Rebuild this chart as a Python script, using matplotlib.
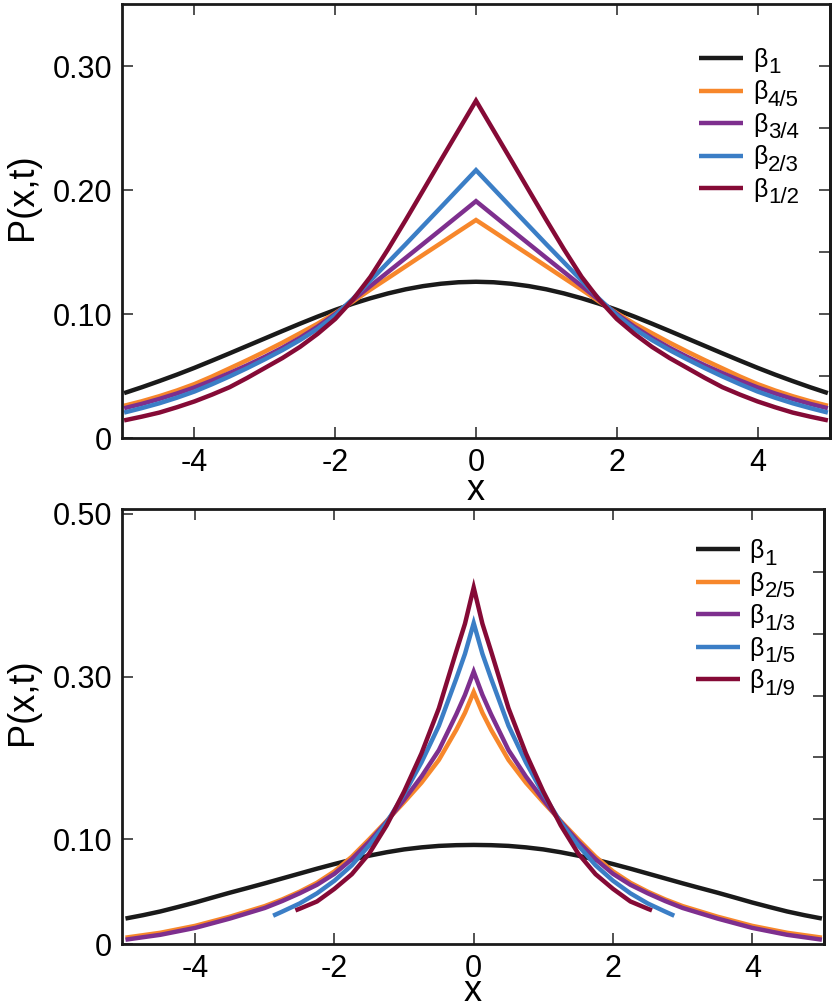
import matplotlib
matplotlib.use("Agg")
import matplotlib.pyplot as plt

plt.rcParams["font.family"] = ["Liberation Sans", "DejaVu Sans"]

# ---- top panel data ----
x_top = [-5, -4.75, -4.5, -4.25, -4, -3.75, -3.5, -3.25, -3, -2.75, -2.5, -2.25, -2, -1.75, -1.5, -1.25,
         -1, -0.75, -0.5, -0.25, 0, 0.25, 0.5, 0.75, 1, 1.25, 1.5, 1.75, 2, 2.25, 2.5, 2.75, 3,
         3.25, 3.5, 3.75, 4, 4.25, 4.5, 4.75, 5]
top_b1 = [0.0362, 0.0409, 0.0459, 0.0511, 0.0566, 0.0624, 0.0683, 0.0743, 0.0803, 0.0863, 0.0922,
          0.0979, 0.1033, 0.1083, 0.1127, 0.1166, 0.1199, 0.1225, 0.1244, 0.1256, 0.1260,
          0.1256, 0.1244, 0.1225, 0.1199, 0.1166, 0.1127, 0.1083, 0.1033, 0.0979, 0.0922,
          0.0863, 0.0803, 0.0743, 0.0683, 0.0624, 0.0566, 0.0511, 0.0459, 0.0409, 0.0362]
top_b45 = [0.0260, 0.0296, 0.0337, 0.0383, 0.0435, 0.0496, 0.0562, 0.0628, 0.0697, 0.0769, 0.0845,
           0.0922, 0.1008, 0.1100, 0.1197, 0.1290, 0.1384, 0.1478, 0.1571, 0.1665, 0.1758,
           0.1665, 0.1571, 0.1478, 0.1384, 0.1290, 0.1197, 0.1100, 0.1008, 0.0922, 0.0845,
           0.0769, 0.0697, 0.0628, 0.0562, 0.0496, 0.0435, 0.0383, 0.0337, 0.0296, 0.0260]
top_b34 = [0.0240, 0.0275, 0.0315, 0.0359, 0.0408, 0.0464, 0.0524, 0.0587, 0.0655, 0.0728, 0.0808,
           0.0898, 0.1000, 0.1112, 0.1226, 0.1339, 0.1452, 0.1566, 0.1680, 0.1795, 0.1910,
           0.1795, 0.1680, 0.1566, 0.1452, 0.1339, 0.1226, 0.1112, 0.1000, 0.0898, 0.0808,
           0.0728, 0.0655, 0.0587, 0.0524, 0.0464, 0.0408, 0.0359, 0.0315, 0.0275, 0.0240]
top_b23 = [0.0205, 0.0241, 0.0280, 0.0325, 0.0375, 0.0434, 0.0497, 0.0564, 0.0635, 0.0709, 0.0790,
           0.0880, 0.0990, 0.1122, 0.1270, 0.1416, 0.1562, 0.1711, 0.1860, 0.2010, 0.2160,
           0.2010, 0.1860, 0.1711, 0.1562, 0.1416, 0.1270, 0.1122, 0.0990, 0.0880, 0.0790,
           0.0709, 0.0635, 0.0564, 0.0497, 0.0434, 0.0375, 0.0325, 0.0280, 0.0241, 0.0205]
top_b12 = [0.0142, 0.0172, 0.0205, 0.0248, 0.0295, 0.0350, 0.0410, 0.0485, 0.0565, 0.0645, 0.0735,
           0.0840, 0.0960, 0.1115, 0.1300, 0.1522, 0.1757, 0.1998, 0.2240, 0.2480, 0.2720,
           0.2480, 0.2240, 0.1998, 0.1757, 0.1522, 0.1300, 0.1115, 0.0960, 0.0840, 0.0735,
           0.0645, 0.0565, 0.0485, 0.0410, 0.0350, 0.0295, 0.0248, 0.0205, 0.0172, 0.0142]
top_subs = ["1", "4/5", "3/4", "2/3", "1/2"]

# ---- bottom panel data ----
x_bot_b1 = x_top
bot_b1 = [0.0025, 0.0066, 0.0112, 0.0166, 0.0222, 0.0283, 0.0343, 0.0400, 0.0458, 0.0518, 0.0578,
          0.0638, 0.0695, 0.0749, 0.0798, 0.0840, 0.0875, 0.0900, 0.0918, 0.0927, 0.0930,
          0.0927, 0.0918, 0.0900, 0.0875, 0.0840, 0.0798, 0.0749, 0.0695, 0.0638, 0.0578,
          0.0518, 0.0458, 0.0400, 0.0343, 0.0283, 0.0222, 0.0166, 0.0112, 0.0066, 0.0025]
x_bot = [-5, -4.5, -4, -3.5, -3, -2.75, -2.5, -2.25, -2, -1.75, -1.5, -1.25, -1, -0.75, -0.5, -0.25,
         -0.125, 0, 0.125, 0.25, 0.5, 0.75, 1, 1.25, 1.5, 1.75, 2, 2.25, 2.5, 2.75, 3, 3.5, 4, 4.5, 5]
bot_b25 = [-0.0210, -0.0150, -0.0065, 0.0048, 0.0178, 0.0260, 0.0355, 0.0465, 0.0605, 0.0785, 0.1000,
           0.1225, 0.1455, 0.1695, 0.1975, 0.2345, 0.2555, 0.2810, 0.2555,
           0.2345, 0.1975, 0.1695, 0.1455, 0.1225, 0.1000, 0.0785, 0.0605, 0.0465, 0.0355, 0.0260,
           0.0178, 0.0048, -0.0065, -0.0150, -0.0210]
bot_b13 = [-0.0235, -0.0175, -0.0090, 0.0025, 0.0155, 0.0240, 0.0335, 0.0440, 0.0575, 0.0755, 0.0970,
           0.1215, 0.1485, 0.1770, 0.2095, 0.2535, 0.2775, 0.3060, 0.2775,
           0.2535, 0.2095, 0.1770, 0.1485, 0.1215, 0.0970, 0.0755, 0.0575, 0.0440, 0.0335, 0.0240,
           0.0155, 0.0025, -0.0090, -0.0175, -0.0235]
x_bot_b15 = [-2.88, -2.75, -2.5, -2.25, -2, -1.75, -1.5, -1.25, -1, -0.75, -0.5, -0.25, -0.125, 0,
             0.125, 0.25, 0.5, 0.75, 1, 1.25, 1.5, 1.75, 2, 2.25, 2.5, 2.75, 2.88]
bot_b15 = [0.0060, 0.0110, 0.0210, 0.0335, 0.0490, 0.0680, 0.0925, 0.1205, 0.1555, 0.1945, 0.2395, 0.2975,
           0.3280, 0.3657, 0.3280,
           0.2975, 0.2395, 0.1945, 0.1555, 0.1205, 0.0925, 0.0680, 0.0490, 0.0335, 0.0210, 0.0110, 0.0060]
x_bot_b19 = [-2.56, -2.5, -2.25, -2, -1.75, -1.5, -1.25, -1, -0.75, -0.5, -0.25, -0.125, 0,
             0.125, 0.25, 0.5, 0.75, 1, 1.25, 1.5, 1.75, 2, 2.25, 2.5, 2.56]
bot_b19 = [0.0125, 0.0145, 0.0235, 0.0390, 0.0570, 0.0825, 0.1170, 0.1585, 0.2055, 0.2610, 0.3310,
           0.3650, 0.4095, 0.3650,
           0.3310, 0.2610, 0.2055, 0.1585, 0.1170, 0.0825, 0.0570, 0.0390, 0.0235, 0.0145, 0.0125]
bot_subs = ["1", "2/5", "1/3", "1/5", "1/9"]

colors = ["#1a1a1a", "#f7872b", "#7e2f8e", "#3b7ec6", "#850a36"]

# tick positions
x_ticks = [-4, -2, 0, 2, 4]
top_yticks = [0, 0.10, 0.20, 0.30]
top_yticklabels = ["0", "0.10", "0.20", "0.30"]
top_right_ticks = [0.05, 0.10, 0.15, 0.20, 0.25, 0.30]
bot_ylim = (-0.0288, 0.506)
bot_yticks = [bot_ylim[0], 0.10, 0.30, 0.50]
bot_yticklabels = ["0", "0.10", "0.30", "0.50"]
bot_right_ticks = [0.0499, 0.1253, 0.2008, 0.2766, 0.3525, 0.4284]

fig = plt.figure(figsize=(8.34, 10.07), dpi=100)
ax1 = fig.add_axes([122 / 834, 1 - 438 / 1007, 708 / 834, 434 / 1007])
ax2 = fig.add_axes([122 / 834, 1 - 944 / 1007, 702 / 834, 435 / 1007])


def style_axes(ax, yticks, yticklabels, right_ticks, ylab_x, xlab_y):
    for s in ax.spines.values():
        s.set_linewidth(2.0)
        s.set_color("#1a1a1a")
    ax.set_xticks(x_ticks)
    ax.set_xticklabels([str(v) for v in x_ticks])
    ax.set_yticks(yticks)
    ax.set_yticklabels(yticklabels)
    ax.tick_params(axis="both", direction="in", length=8, width=1.2, color="#333333",
                   labelsize=22, pad=7, top=True, right=False)
    sec = ax.secondary_yaxis("right")
    sec.set_yticks(right_ticks)
    sec.tick_params(direction="in", length=8, width=1.2, color="#333333", labelright=False)
    sec.spines["right"].set_linewidth(2.0)
    ax.set_xlabel("x", fontsize=26)
    ax.set_ylabel("P(x,t)", fontsize=26)
    ax.yaxis.set_label_coords(ylab_x, 0.557)
    ax.xaxis.set_label_coords(0.5, xlab_y)


line_kw = dict(lw=3.2, solid_joinstyle="miter", solid_capstyle="butt")
leg_kw = dict(loc="upper left", frameon=False, fontsize=18, handlelength=1.76, handletextpad=0.4,
              labelspacing=0.34, borderpad=0, borderaxespad=0)

# top panel
for ys, c in zip([top_b1, top_b45, top_b34, top_b23, top_b12], colors):
    ax1.plot(x_top, ys, color=c, label="\u03b2", **line_kw)
ax1.set_xlim(-5.03, 5.03)
ax1.set_ylim(0, 0.35)
style_axes(ax1, top_yticks, top_yticklabels, top_right_ticks, -0.116, -0.081)
leg1 = ax1.legend(bbox_to_anchor=(0.815, 0.899), **leg_kw)

# bottom panel
bot_series = [(x_bot_b1, bot_b1), (x_bot, bot_b25), (x_bot, bot_b13), (x_bot_b15, bot_b15), (x_bot_b19, bot_b19)]
for (xs, ys), c in zip(bot_series, colors):
    ax2.plot(xs, ys, color=c, label="\u03b2", **line_kw)
ax2.set_xlim(-5.05, 5.03)
ax2.set_ylim(*bot_ylim)
style_axes(ax2, bot_yticks, bot_yticklabels, bot_right_ticks, -0.117, -0.068)
leg2 = ax2.legend(bbox_to_anchor=(0.817, 0.931), **leg_kw)

# subscripts of the legend labels, nearly as large as the beta itself
fig.canvas.draw()
renderer = fig.canvas.get_renderer()
W, H = fig.bbox.width, fig.bbox.height
for leg, subs in [(leg1, top_subs), (leg2, bot_subs)]:
    for t, sub in zip(leg.get_texts(), subs):
        bb = t.get_window_extent(renderer)
        fig.text((bb.x1 + 0.5) / W, (bb.y0 - 1.5) / H, sub, fontsize=16, va="baseline", ha="left")

fig.savefig("out.png", dpi=100)
